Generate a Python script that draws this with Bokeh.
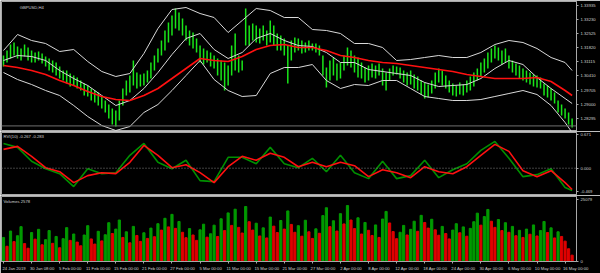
from bokeh.plotting import figure
from bokeh.layouts import column
from bokeh.models import (Range1d, FixedTicker, Span, Label, NumeralTickFormatter,
                          ColumnDataSource)
from bokeh.embed import file_html
from bokeh.resources import INLINE

# ---------------- data ----------------
symbol_title = "GBPUSD,H4"
rvi_title = "RVI(10) -0.267 -0.283"
vol_title = "Volumes 2578"

tick_dates = ["24 Jan 2019", "30 Jan 08:00", "5 Feb 00:00", "11 Feb 00:00", "15 Feb 00:00",
              "21 Feb 00:00", "27 Feb 00:00", "5 Mar 00:00", "11 Mar 00:00", "15 Mar 00:00",
              "21 Mar 00:00", "27 Mar 00:00", "2 Apr 00:00", "8 Apr 00:00", "12 Apr 00:00",
              "18 Apr 00:00", "24 Apr 00:00", "30 Apr 00:00", "6 May 00:00", "10 May 00:00",
              "16 May 00:00"]
tick_bars = [0, 8, 16, 24, 32, 40, 48, 56, 64, 72, 80, 88, 96, 104, 112, 120, 128, 136,
             144, 152, 160]

price_ticks = [1.33935, 1.33230, 1.32525, 1.31820, 1.31115, 1.30410, 1.29705, 1.29000, 1.28295]
rvi_ticks = [0.671, 0.0, -0.469]
vol_ticks = [0, 25079]
last_price = 1.27909

bar_high = [
    1.3143, 1.3168, 1.3198, 1.3208, 1.3188, 1.3178, 1.3198, 1.3183, 1.3168, 1.3158,
    1.3163, 1.3153, 1.3138, 1.3128, 1.3118, 1.3108, 1.3088, 1.3068, 1.3068, 1.3053,
    1.3043, 1.3033, 1.3018, 1.3003, 1.2993, 1.2978, 1.2968, 1.2958, 1.2938, 1.2918,
    1.2898, 1.2878, 1.2868, 1.2918, 1.2978, 1.3018, 1.3043, 1.3118, 1.3058, 1.3048,
    1.3053, 1.3068, 1.3108, 1.3143, 1.3178, 1.3218, 1.3268, 1.3308, 1.3343, 1.3378,
    1.3358, 1.3328, 1.3293, 1.3268, 1.3258, 1.3228, 1.3193, 1.3178, 1.3168, 1.3158,
    1.3143, 1.3128, 1.3118, 1.3108, 1.3093, 1.3193, 1.3253, 1.3143, 1.3118, 1.3378,
    1.3293, 1.3303, 1.3293, 1.3278, 1.3293, 1.3268, 1.3318, 1.3293, 1.3253, 1.3243,
    1.3228, 1.3193, 1.3218, 1.3233, 1.3228, 1.3218, 1.3208, 1.3218, 1.3203, 1.3203,
    1.3193, 1.3143, 1.3083, 1.3118, 1.3133, 1.3103, 1.3108, 1.3143, 1.3183, 1.3168,
    1.3143, 1.3133, 1.3108, 1.3083, 1.3093, 1.3103, 1.3093, 1.3103, 1.3078, 1.3058,
    1.3078, 1.3093, 1.3088, 1.3083, 1.3068, 1.3058, 1.3068, 1.3048, 1.3038, 1.3018,
    1.3008, 1.2998, 1.3018, 1.3058, 1.3078, 1.3068, 1.3043, 1.3018, 1.3003, 1.2993,
    1.3008, 1.2998, 1.3018, 1.3038, 1.3058, 1.3078, 1.3108, 1.3128, 1.3158, 1.3178,
    1.3193, 1.3183, 1.3168, 1.3178, 1.3143, 1.3118, 1.3103, 1.3093, 1.3078, 1.3068,
    1.3058, 1.3048, 1.3043, 1.3033, 1.3003, 1.2993, 1.2978, 1.2958, 1.2918, 1.2898,
    1.2878, 1.2858, 1.2828]
bar_low = [
    1.3088, 1.3108, 1.3128, 1.3143, 1.3128, 1.3118, 1.3138, 1.3118, 1.3108, 1.3108,
    1.3118, 1.3103, 1.3088, 1.3068, 1.3058, 1.3043, 1.3028, 1.3018, 1.3003, 1.2988,
    1.2993, 1.2978, 1.2968, 1.2943, 1.2938, 1.2918, 1.2908, 1.2893, 1.2878, 1.2858,
    1.2828, 1.2798, 1.2788, 1.2818, 1.2893, 1.2943, 1.2958, 1.2993, 1.2978, 1.2988,
    1.2993, 1.3008, 1.3028, 1.3068, 1.3108, 1.3143, 1.3168, 1.3208, 1.3243, 1.3278,
    1.3268, 1.3243, 1.3218, 1.3193, 1.3178, 1.3158, 1.3108, 1.3098, 1.3108, 1.3088,
    1.3078, 1.3043, 1.3018, 1.2968, 1.2993, 1.3043, 1.3068, 1.3058, 1.3068, 1.3193,
    1.3193, 1.3218, 1.3208, 1.3203, 1.3218, 1.3193, 1.3208, 1.3193, 1.3168, 1.3168,
    1.3143, 1.3003, 1.3118, 1.3158, 1.3168, 1.3153, 1.3158, 1.3168, 1.3168, 1.3158,
    1.3143, 1.3043, 1.2983, 1.3018, 1.3043, 1.3018, 1.3028, 1.3068, 1.3093, 1.3083,
    1.3058, 1.3033, 1.3028, 1.3008, 1.3018, 1.3033, 1.3028, 1.3043, 1.2993, 1.2968,
    1.3018, 1.3043, 1.3048, 1.3028, 1.3008, 1.2993, 1.2998, 1.2978, 1.2968, 1.2948,
    1.2928, 1.2933, 1.2953, 1.2978, 1.3008, 1.2993, 1.2978, 1.2958, 1.2943, 1.2938,
    1.2948, 1.2943, 1.2958, 1.2968, 1.2988, 1.3018, 1.3038, 1.3058, 1.3078, 1.3108,
    1.3128, 1.3118, 1.3098, 1.3108, 1.3078, 1.3058, 1.3043, 1.3028, 1.3018, 1.3008,
    1.2998, 1.2988, 1.2983, 1.2978, 1.2943, 1.2933, 1.2918, 1.2903, 1.2858, 1.2843,
    1.2828, 1.2798, 1.2783]

line_bars = [0, 4, 8, 12, 16, 20, 24, 28, 32, 36, 40, 44, 48, 52, 56, 60, 64, 68, 72, 76,
             80, 84, 88, 92, 96, 100, 104, 108, 112, 116, 120, 124, 128, 132, 136, 140, 144,
             148, 152, 156, 160, 162]
bb_upper = [1.3168, 1.3248, 1.3218, 1.3203, 1.3163, 1.3173, 1.3113, 1.3063, 1.3038, 1.3053,
            1.3153, 1.3278, 1.3373, 1.3383, 1.3353, 1.3333, 1.3258, 1.3318, 1.3378, 1.3368,
            1.3333, 1.3333, 1.3273, 1.3268, 1.3253, 1.3203, 1.3203, 1.3183, 1.3118, 1.3123,
            1.3133, 1.3143, 1.3133, 1.3133, 1.3158, 1.3198, 1.3218, 1.3208, 1.3178, 1.3133,
            1.3108, 1.3068]
bb_middle = [1.3118, 1.3143, 1.3138, 1.3118, 1.3068, 1.3028, 1.2993, 1.2943, 1.2893, 1.2918,
             1.2978, 1.3058, 1.3148, 1.3228, 1.3253, 1.3173, 1.3128, 1.3158, 1.3228, 1.3253,
             1.3218, 1.3193, 1.3188, 1.3158, 1.3108, 1.3108, 1.3073, 1.3063, 1.3053, 1.3043,
             1.3008, 1.2988, 1.2993, 1.2998, 1.3028, 1.3078, 1.3118, 1.3098, 1.3033, 1.2978,
             1.2928, 1.2903]
bb_lower = [1.3058, 1.3023, 1.2998, 1.2968, 1.2943, 1.2893, 1.2838, 1.2793, 1.2768, 1.2788,
            1.2858, 1.2898, 1.2968, 1.3043, 1.3118, 1.3023, 1.2968, 1.2938, 1.2943, 1.3053,
            1.3083, 1.3083, 1.3098, 1.3018, 1.2978, 1.2998, 1.2993, 1.3018, 1.3018, 1.2978,
            1.2938, 1.2928, 1.2918, 1.2918, 1.2923, 1.2938, 1.2953, 1.2968, 1.2948, 1.2893,
            1.2808, 1.2758]
ma_red = [1.3093, 1.3083, 1.3068, 1.3048, 1.3018, 1.2993, 1.2963, 1.2938, 1.2923, 1.2918,
          1.2943, 1.2978, 1.3028, 1.3078, 1.3128, 1.3118, 1.3113, 1.3138, 1.3173, 1.3193,
          1.3198, 1.3183, 1.3183, 1.3168, 1.3143, 1.3133, 1.3118, 1.3108, 1.3103, 1.3093,
          1.3083, 1.3073, 1.3063, 1.3048, 1.3038, 1.3028, 1.3028, 1.3028, 1.3033, 1.3013,
          1.2968, 1.2943]

rvi_main = [0.50, 0.42, 0.14, -0.01, -0.11, -0.37, -0.01, -0.11, -0.09, 0.26,
            0.50, 0.12, -0.01, 0.16, -0.25, -0.27, 0.22, 0.22, 0.09, 0.42,
            0.09, 0.01, 0.20, -0.07, 0.26, -0.09, -0.21, 0.14, -0.21, -0.15,
            0.16, -0.19, -0.03, 0.09, 0.36, 0.54, 0.20, -0.17, -0.13, -0.01,
            -0.39, -0.45]
rvi_signal = [0.38, 0.44, 0.24, 0.01, -0.07, -0.29, -0.15, -0.09, -0.11, 0.12,
              0.46, 0.26, 0.01, 0.07, -0.09, -0.29, 0.03, 0.24, 0.16, 0.30,
              0.22, 0.03, 0.12, 0.03, 0.12, 0.05, -0.17, -0.03, -0.09, -0.19,
              0.03, -0.07, -0.11, 0.03, 0.26, 0.48, 0.34, -0.05, -0.17, -0.05,
              -0.29, -0.43]

volumes = [
    9800, 6200, 12400, 8100, 10500, 14200, 7300, 5400, 11800, 9100,
    13100, 6800, 8900, 12600, 7400, 10200, 5600, 9300, 13800, 8600,
    11200, 7900, 6400, 10800, 14600, 9200, 7100, 12300, 8400, 10900,
    15800, 11400, 13200, 16900, 9800, 12100, 7600, 14300, 10600, 8200,
    11700, 9400, 13600, 10100, 15400, 12800, 17600, 14100, 19200, 13500,
    16300, 11900, 9700, 13400, 10800, 8600, 12900, 15200, 9900, 11300,
    14800, 10200, 17400, 12600, 19800, 14700, 21300, 13900, 11600, 22400,
    16200, 12800, 15600, 10400, 13700, 9600, 18100, 14400, 11800, 16700,
    13200, 20600, 15100, 11900, 14600, 10300, 16800, 12100, 9400, 13300,
    11500, 18700, 21900, 14200, 16600, 12400, 19500, 15300, 22800, 16900,
    13400, 17800, 11200, 15900, 12700, 10600, 14900, 9800, 17300, 20400,
    15700, 12200, 9300, 11900, 14700, 10800, 13100, 16400, 12300, 18800,
    15900, 13600, 17200, 12900, 10700, 14300, 11400, 9200, 12800, 15400,
    11700, 14100, 10300, 13500, 16200, 19700, 14800, 18300, 21200, 16400,
    13900, 17100, 12600, 15800, 11900, 14300, 10500, 12700, 9800, 13200,
    11100, 14900, 10400, 12600, 16300, 11800, 13700, 9600, 12100, 10200,
    8300, 5200, 2578]

# ---------------- styling ----------------
FONT = "Liberation Sans"
TXT = "#d0d0d0"
FRAME = "#a8a8a8"
FS = "4.2px"
LABEL_SHIFT = 3.0   # time labels start at their tick (MetaTrader style)

n = len(bar_high)
bars = list(range(n))
vol_colors = ["#009a00" if i == 0 or volumes[i] > volumes[i - 1] else "#e00000"
              for i in range(n)]

x_range = Range1d(-0.57, 163.25)


def make_fig(height, y_range, top, bottom, xaxis):
    p = figure(width=600, height=height, x_range=x_range, y_range=y_range,
               output_backend="svg", toolbar_location=None,
               min_border_left=1, min_border_right=24,
               min_border_top=top, min_border_bottom=bottom,
               background_fill_color="black", border_fill_color="black",
               outline_line_color=FRAME, outline_line_width=1,
               y_axis_location="right", x_axis_location=xaxis)
    p.xgrid.visible = False
    p.ygrid.visible = False
    ax = p.yaxis[0]
    ax.major_label_text_font_size = FS
    ax.major_label_text_font = FONT
    ax.major_label_text_color = TXT
    ax.major_tick_out = 2
    ax.major_tick_in = 0
    ax.minor_tick_out = 0
    ax.minor_tick_in = 0
    ax.major_tick_line_color = FRAME
    ax.axis_line_color = FRAME
    ax.major_label_standoff = 2
    return p


# ---- main price pane ----
p1 = make_fig(131, Range1d(1.2763, 1.3413), 1, 0, None)
p1.yaxis[0].ticker = FixedTicker(ticks=price_ticks)
p1.yaxis[0].formatter = NumeralTickFormatter(format="0.00000")

p1.add_layout(Span(location=last_price, dimension="width", line_color="#707070", line_width=1))
src = ColumnDataSource(dict(x=bars, hi=bar_high, lo=bar_low))
p1.segment(x0="x", y0="lo", x1="x", y1="hi", source=src, line_color="#19e619", line_width=1.5)
p1.line(line_bars, bb_upper, line_color="#d8d8d8", line_width=1)
p1.line(line_bars, bb_middle, line_color="#d8d8d8", line_width=1)
p1.line(line_bars, bb_lower, line_color="#d8d8d8", line_width=1)
p1.line(line_bars, ma_red, line_color="#ff1010", line_width=1.6)

p1.add_layout(Label(x=4.6, y=1.3383, text=symbol_title, text_font=FONT, text_font_size=FS,
                    text_color=TXT, text_baseline="middle"))
p1.add_layout(Label(x=163.55, y=last_price, text="1.27909", text_font=FONT, text_font_size=FS,
                    text_color="#101010", text_baseline="middle",
                    background_fill_color="#9aaac0"))

# ---- RVI pane ----
p2 = make_fig(64, Range1d(-0.53, 0.72), 1, 1, None)
p2.yaxis[0].ticker = FixedTicker(ticks=rvi_ticks)
p2.yaxis[0].formatter = NumeralTickFormatter(format="0.000")
p2.add_layout(Span(location=0, dimension="width", line_color="#808080", line_width=1,
                   line_dash="1 2"))
p2.line(line_bars, rvi_main, line_color="#009000", line_width=1.6)
p2.line(line_bars, rvi_signal, line_color="#ff1010", line_width=1.6)
p2.add_layout(Label(x=0.0, y=0.64, text=rvi_title, text_font=FONT, text_font_size=FS,
                    text_color=TXT, text_baseline="middle"))

# ---- Volumes pane ----
p3 = make_fig(78, Range1d(0, 26480), 1, 11, "below")
p3.yaxis[0].ticker = FixedTicker(ticks=vol_ticks)
p3.yaxis[0].formatter = NumeralTickFormatter(format="0")
vsrc = ColumnDataSource(dict(x=bars, v=volumes, c=vol_colors))
p3.vbar(x="x", top="v", bottom=0, width=0.62, color="c", source=vsrc)
p3.add_layout(Label(x=0.0, y=24270, text=vol_title, text_font=FONT, text_font_size=FS,
                    text_color=TXT, text_baseline="middle"))

label_pos = [b + LABEL_SHIFT for b in tick_bars]
xa = p3.xaxis[0]
xa.ticker = FixedTicker(ticks=label_pos, minor_ticks=tick_bars)
xa.major_label_overrides = {pos: s for pos, s in zip(label_pos, tick_dates)}
xa.major_label_text_font_size = FS
xa.major_label_text_font = FONT
xa.major_label_text_color = TXT
xa.major_tick_out = 0
xa.major_tick_in = 0
xa.minor_tick_out = 2
xa.minor_tick_in = 0
xa.minor_tick_line_color = FRAME
xa.axis_line_color = FRAME
xa.major_label_standoff = 2

layout = column(p1, p2, p3, spacing=0)
open("out.html", "w").write(file_html(layout, INLINE))
